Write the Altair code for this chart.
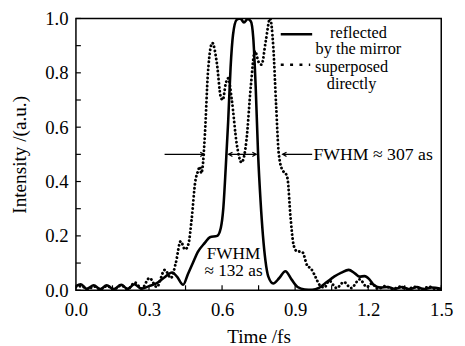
import altair as alt
import pandas as pd

# ---- data ----
solid_t = [0.000, 0.020, 0.045, 0.073, 0.100, 0.126, 0.155, 0.186, 0.212, 0.240, 0.268, 0.300,
           0.330, 0.360, 0.395, 0.415, 0.440, 0.460, 0.480, 0.500, 0.530, 0.550, 0.580, 0.595,
           0.605, 0.615, 0.625, 0.635, 0.645, 0.660, 0.675, 0.690, 0.705, 0.718, 0.728, 0.738,
           0.748, 0.758, 0.768, 0.778, 0.790, 0.810, 0.835, 0.860, 0.885, 0.910, 0.940, 0.970,
           1.000, 1.030, 1.060, 1.090, 1.120, 1.145, 1.165, 1.185, 1.205, 1.225, 1.250, 1.280,
           1.310, 1.340, 1.370, 1.400, 1.430, 1.460, 1.500]
solid_i = [0.015, 0.022, 0.005, 0.018, 0.004, 0.018, 0.004, 0.020, 0.005, 0.022, 0.006, 0.015,
           0.025, 0.045, 0.065, 0.050, 0.020, 0.060, 0.100, 0.140, 0.175, 0.195, 0.200, 0.230,
           0.300, 0.450, 0.620, 0.820, 0.940, 0.995, 1.000, 0.985, 0.998, 0.990, 0.930, 0.750,
           0.500, 0.330, 0.200, 0.110, 0.050, 0.025, 0.045, 0.070, 0.040, 0.012, 0.003, 0.002,
           0.010, 0.030, 0.050, 0.065, 0.075, 0.062, 0.050, 0.052, 0.040, 0.018, 0.010, 0.012,
           0.005, 0.012, 0.004, 0.012, 0.004, 0.010, 0.005]

dot_t = [0.000, 0.022, 0.048, 0.075, 0.100, 0.128, 0.155, 0.186, 0.212, 0.242, 0.270, 0.302,
         0.332, 0.365, 0.390, 0.410, 0.430, 0.448, 0.462, 0.475, 0.490, 0.502, 0.508, 0.515,
         0.522, 0.530, 0.542, 0.560, 0.578, 0.595, 0.603, 0.615, 0.625, 0.640, 0.660, 0.680,
         0.700, 0.718, 0.735, 0.750, 0.762, 0.780, 0.797, 0.810, 0.822, 0.833, 0.849, 0.861,
         0.869, 0.881, 0.893, 0.905, 0.930, 0.950, 0.965, 0.983, 1.000, 1.020, 1.040, 1.070,
         1.100, 1.130, 1.165, 1.195, 1.215, 1.240, 1.270, 1.300, 1.330, 1.360, 1.390, 1.420,
         1.450, 1.480, 1.500]
dot_i = [0.012, 0.015, 0.004, 0.014, 0.003, 0.016, 0.003, 0.018, 0.004, 0.028, 0.006, 0.045,
         0.012, 0.075, 0.045, 0.100, 0.180, 0.150, 0.170, 0.260, 0.400, 0.440, 0.455, 0.430,
         0.470, 0.580, 0.800, 0.910, 0.840, 0.710, 0.700, 0.760, 0.780, 0.700, 0.540, 0.470,
         0.550, 0.750, 0.880, 0.840, 0.830, 0.920, 1.000, 0.900, 0.680, 0.500, 0.440, 0.430,
         0.410, 0.270, 0.170, 0.145, 0.140, 0.090, 0.080, 0.050, 0.020, 0.010, 0.035, 0.008,
         0.030, 0.008, 0.040, 0.012, 0.025, 0.005, 0.015, 0.004, 0.013, 0.004, 0.012, 0.004,
         0.013, 0.004, 0.010]

x_tick_marks = [0.0, 0.15, 0.3, 0.45, 0.6, 0.75, 0.9, 1.05, 1.2, 1.35, 1.5]
y_tick_marks = [0.0, 0.1, 0.2, 0.3, 0.4, 0.5, 0.6, 0.7, 0.8, 0.9, 1.0]
x_labels = [0.0, 0.3, 0.6, 0.9, 1.2, 1.5]
y_labels = [0.0, 0.2, 0.4, 0.6, 0.8, 1.0]

# annotation arrows (start, end, level)
arrow_t = [0.364, 0.627, 0.849]
arrow_t2 = [0.526, 0.740, 0.970]
arrow_i = [0.5, 0.5, 0.5]
head_t = [0.526, 0.627, 0.740, 0.849]
head_ang = [0, 180, 0, 180]

right_text = ["FWHM \u2248 307 as"]
right_text_t = [0.975]
right_text_i = [0.496]
center_texts = ["FWHM", "\u2248 132 as"]
center_text_t = [0.647, 0.647]
center_text_i = [0.134, 0.069]

legend_names = ["reflected", "by the mirror", "superposed", "directly"]
legend_text_t = [1.160, 1.160, 1.132, 1.132]
legend_text_i = [0.948, 0.887, 0.820, 0.760]
legend_line_t = [0.841, 0.841]
legend_line_t2 = [0.970, 0.962]
legend_line_i = [0.942, 0.830]

FONT = "Liberation Serif"
W, H = 371, 276

xs = alt.Scale(domain=[0, 1.5], nice=False, zero=False)
ys = alt.Scale(domain=[0, 1.0], nice=False, zero=False)

x_enc = alt.X("t:Q", scale=xs, axis=alt.Axis(values=x_labels, format=".1f", title="Time /fs",
                                             labelPadding=11, labelFlush=False, labelOverlap=False,
                                             titleY=47, titleBaseline="middle"))
y_enc = alt.Y("i:Q", scale=ys, axis=alt.Axis(values=y_labels, format=".1f", title="Intensity /(a.u.)",
                                             labelPadding=8, labelFlush=False, labelOverlap=False,
                                             titleX=-57, titleY=H / 2, titleBaseline="middle",
                                             titleAlign="center", titleAngle=270))
X = alt.X("t:Q", scale=xs)
Y = alt.Y("i:Q", scale=ys)

solid = alt.Chart(pd.DataFrame({"t": solid_t, "i": solid_i})).mark_line(
    color="black", strokeWidth=2.6, interpolate="monotone", clip=True).encode(x=x_enc, y=y_enc)

dotted = alt.Chart(pd.DataFrame({"t": dot_t, "i": dot_i})).mark_line(
    color="black", strokeWidth=2.9, strokeDash=[0.1, 4.0], strokeCap="round",
    interpolate="monotone", clip=True).encode(x=X, y=Y)

xt = alt.Chart(pd.DataFrame({"t": x_tick_marks})).mark_rule(color="black", strokeWidth=1.2).encode(
    x=X, y=alt.value(H), y2=alt.value(H - 5))
yt = alt.Chart(pd.DataFrame({"i": y_tick_marks})).mark_rule(color="black", strokeWidth=1.2).encode(
    y=Y, x=alt.value(0), x2=alt.value(5))

arrows = alt.Chart(pd.DataFrame({"t": arrow_t, "t2": arrow_t2, "i": arrow_i})).mark_rule(
    color="black", strokeWidth=1.3).encode(x=X, x2="t2:Q", y=Y)
heads = alt.Chart(pd.DataFrame({"t": head_t, "i": [0.5] * len(head_t), "a": head_ang})).mark_point(
    shape="M-1,-0.55L0,0L-1,0.55", filled=False, color="black", strokeWidth=1.3, size=60, opacity=1).encode(
    x=X, y=Y, angle=alt.Angle("a:Q", scale=None))

ann_right = alt.Chart(pd.DataFrame({"t": right_text_t, "i": right_text_i, "s": right_text})).mark_text(
    font=FONT, fontSize=18, color="black", baseline="middle", align="left").encode(x=X, y=Y, text="s:N")
ann_center = alt.Chart(pd.DataFrame({"t": center_text_t, "i": center_text_i, "s": center_texts})).mark_text(
    font=FONT, fontSize=17.5, color="black", baseline="middle", align="center").encode(x=X, y=Y, text="s:N")

leg_text = alt.Chart(pd.DataFrame({"t": legend_text_t, "i": legend_text_i, "s": legend_names})).mark_text(
    font=FONT, fontSize=16.5, color="black", baseline="middle", align="center").encode(x=X, y=Y, text="s:N")

leg_solid = alt.Chart(pd.DataFrame({"t": legend_line_t[:1], "t2": legend_line_t2[:1], "i": legend_line_i[:1]})).mark_rule(
    color="black", strokeWidth=2.6).encode(x=X, x2="t2:Q", y=Y)
leg_dot = alt.Chart(pd.DataFrame({"t": legend_line_t[1:], "t2": legend_line_t2[1:], "i": legend_line_i[1:]})).mark_rule(
    color="black", strokeWidth=2.6, strokeDash=[3, 6.5]).encode(x=X, x2="t2:Q", y=Y)

chart = alt.layer(solid, dotted, xt, yt, arrows, heads, ann_right, ann_center, leg_text, leg_solid, leg_dot).properties(
    width=W, height=H,
    padding={"left": 69, "top": 8, "right": 16, "bottom": 54},
    autosize=alt.AutoSizeParams(type="none"),
    background="white",
).configure_view(stroke="black", strokeWidth=1.5).configure_axis(
    domain=False, ticks=False, grid=False, labelFont=FONT, titleFont=FONT,
    labelColor="black", titleColor="black", labelFontSize=19, titleFontSize=19.5,
    titleFontWeight="normal")

chart.save("out.html", embed_options={"renderer": "svg", "actions": False})
